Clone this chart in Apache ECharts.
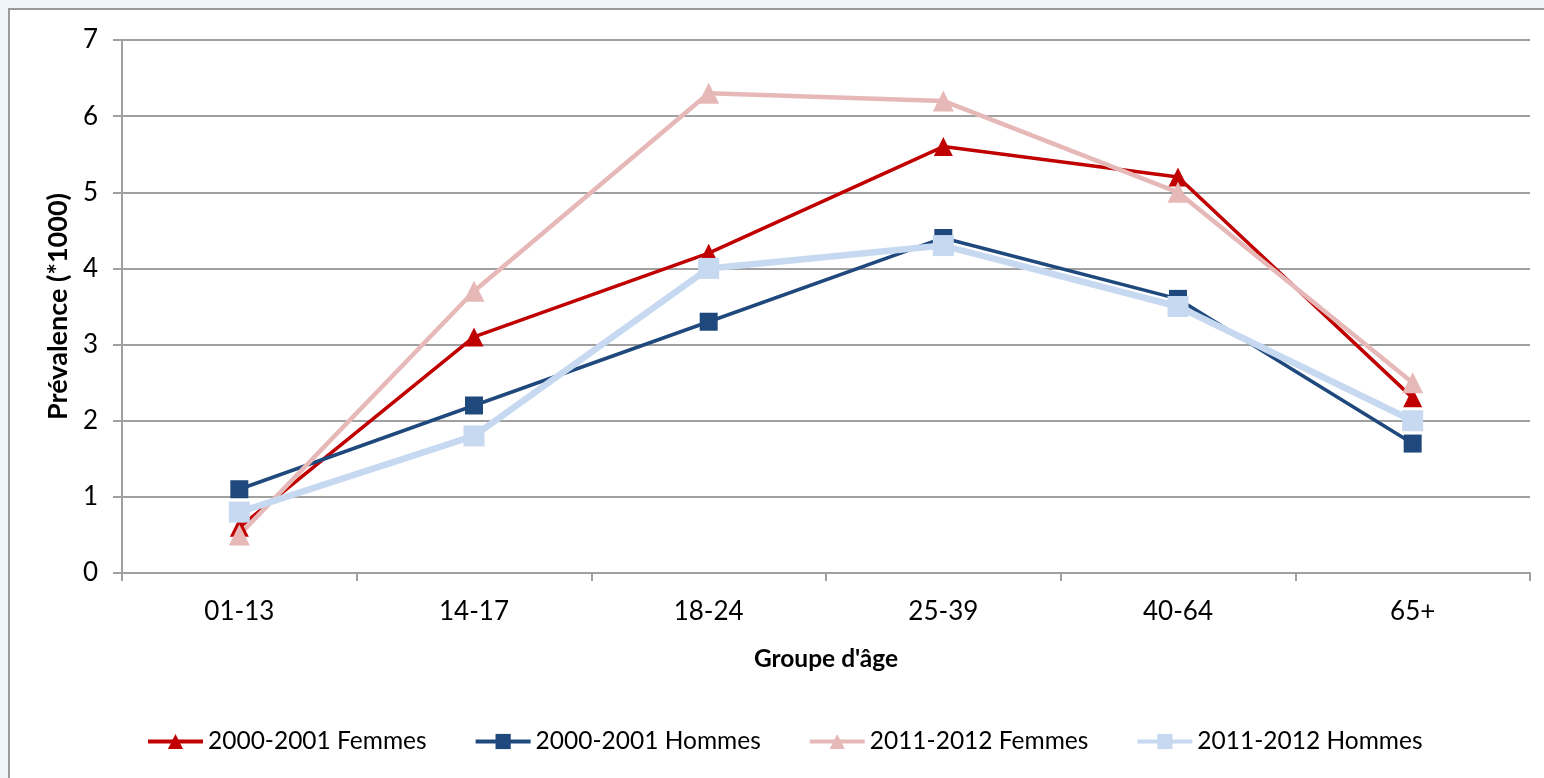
<!DOCTYPE html>
<html>
<head>
<meta charset="utf-8">
<script src="https://cdn.jsdelivr.net/npm/echarts@6/dist/echarts.min.js"></script>
<style>
  html, body { margin: 0; padding: 0; background: #eef4f8; }
  #chart { width: 1544px; height: 778px; }
</style>
</head>
<body>
<div id="chart"></div>
<script>
// données
const groupes = ["01-13", "14-17", "18-24", "25-39", "40-64", "65+"];
const femmes2000 = [0.6, 3.1, 4.2, 5.6, 5.2, 2.3];
const hommes2000 = [1.1, 2.2, 3.3, 4.4, 3.6, 1.7];
const femmes2011 = [0.5, 3.7, 6.3, 6.2, 5.0, 2.5];
const hommes2011 = [0.8, 1.8, 4.0, 4.3, 3.5, 2.0];
const yTicks = [0, 1, 2, 3, 4, 5, 6, 7];

const font = "Lato, 'Open Sans', sans-serif";
const gris = "#a0a0a0";

let myChart = echarts.init(document.getElementById("chart"));

function serie(name, data, color, width, symbol, size) {
  return {
    name: name,
    type: "line",
    data: data,
    symbol: symbol,
    symbolSize: size,
    lineStyle: { color: color, width: width },
    itemStyle: { color: color },
    emphasis: { disabled: true }
  };
}

let option = {
  backgroundColor: "#eef4f8",
  animation: false,
  textStyle: { fontFamily: font },
  graphic: [{
    type: "rect",
    z: -10,
    shape: { x: 9, y: 9, width: 1560, height: 800 },
    style: { fill: "#ffffff", stroke: "#9a9a9a", lineWidth: 2 }
  }],
  grid: { left: 122, right: 14, top: 40, bottom: 205 },
  legend: {
    bottom: 19,
    left: 141,
    itemWidth: 55,
    itemHeight: 19,
    itemGap: 47,
    lineStyle: { width: 4 },
    textStyle: { fontSize: 24.5, color: "#000", fontFamily: font },
    data: ["2000-2001 Femmes", "2000-2001 Hommes", "2011-2012 Femmes", "2011-2012 Hommes"]
  },
  xAxis: {
    type: "category",
    data: groupes,
    boundaryGap: true,
    name: "Groupe d'âge",
    nameLocation: "middle",
    nameGap: 74,
    nameTextStyle: { fontSize: 24.5, fontWeight: "bold", color: "#000" },
    axisLine: { lineStyle: { color: gris, width: 2 } },
    axisTick: { show: true, length: 8, lineStyle: { color: gris, width: 2 } },
    axisLabel: { fontSize: 26, color: "#000", margin: 26 }
  },
  yAxis: {
    type: "value",
    min: yTicks[0],
    max: yTicks[yTicks.length - 1],
    interval: 1,
    name: "Prévalence (*1000)",
    nameLocation: "middle",
    nameGap: 49,
    nameTextStyle: { fontSize: 27, fontWeight: "bold", color: "#000" },
    axisLine: { show: true, lineStyle: { color: gris, width: 2 } },
    axisTick: { show: true, length: 9, lineStyle: { color: gris, width: 2 } },
    axisLabel: { fontSize: 26, color: "#000", margin: 24 },
    splitLine: { lineStyle: { color: gris, width: 2 } }
  },
  series: [
    serie("2000-2001 Femmes", femmes2000, "#c00000", 3.5, "triangle", 19),
    serie("2000-2001 Hommes", hommes2000, "#1f497d", 3.5, "rect", 18),
    serie("2011-2012 Femmes", femmes2011, "#e6b9b8", 4.5, "triangle", 21),
    serie("2011-2012 Hommes", hommes2011, "#c6d9f1", 6.5, "rect", 21)
  ]
};

myChart.setOption(option);
</script>
</body>
</html>
